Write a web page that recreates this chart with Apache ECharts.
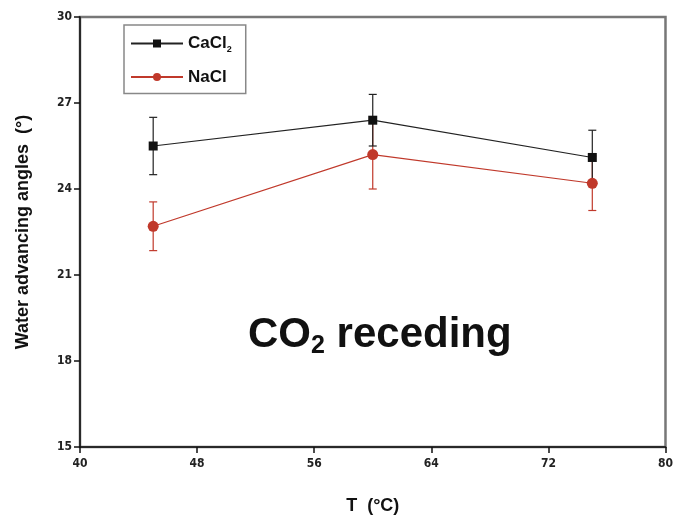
<!DOCTYPE html>
<html>
<head>
<meta charset="utf-8">
<script src="https://cdn.jsdelivr.net/npm/echarts@6/dist/echarts.min.js"></script>
<style>
  html, body { margin: 0; padding: 0; background: #fff; }
  #chart { width: 676px; height: 522px; }
</style>
</head>
<body>
<div id="chart"></div>
<script>
const temps = [45, 60, 75]
const cacl2 = [25.5, 26.4, 25.1]
const cacl2Err = [1.0, 0.9, 0.95]
const nacl = [22.7, 25.2, 24.2]
const naclErr = [0.85, 1.2, 0.95]
const xTicks = [40, 48, 56, 64, 72, 80]
const yTicks = [15, 18, 21, 24, 27, 30]

const chart = echarts.init(document.getElementById('chart'))

const tickFont = '"DejaVu Sans Condensed", "Liberation Sans", sans-serif'

// 误差棒
const errorBars = (name, vals, errs, color) => ({
  type: 'custom',
  name: name + '_err',
  data: temps.map((t, i) => [t, vals[i] - errs[i], vals[i] + errs[i]]),
  renderItem: (params, api) => {
    const lo = api.coord([api.value(0), api.value(1)])
    const hi = api.coord([api.value(0), api.value(2)])
    const w = 4
    const style = { stroke: color, lineWidth: 1.2 }
    return {
      type: 'group',
      children: [
        { type: 'line', shape: { x1: lo[0], y1: lo[1], x2: hi[0], y2: hi[1] }, style },
        { type: 'line', shape: { x1: lo[0] - w, y1: lo[1], x2: lo[0] + w, y2: lo[1] }, style },
        { type: 'line', shape: { x1: hi[0] - w, y1: hi[1], x2: hi[0] + w, y2: hi[1] }, style }
      ]
    }
  },
  z: 1,
  silent: true
})

const option = {
  backgroundColor: '#fff',
  animation: false,
  grid: {
    left: 80, right: 8, top: 17, bottom: 75,
    show: true,
    borderColor: '#777',
    borderWidth: 2.5
  },
  legend: {
    data: ['CaCl2', 'NaCl'],
    orient: 'vertical',
    left: 124,
    top: 25,
    padding: [10, 14, 8, 6],
    itemGap: 14,
    itemWidth: 52,
    itemHeight: 10,
    borderColor: '#888',
    borderWidth: 1.5,
    formatter: (name) => name === 'CaCl2' ? '{b|CaCl}{s|2}' : '{b|' + name + '}',
    textStyle: {
      rich: {
        b: { fontFamily: 'Liberation Sans', fontWeight: 'bold', fontSize: 17, color: '#111' },
        s: { fontFamily: 'Liberation Sans', fontWeight: 'bold', fontSize: 9, color: '#111', padding: [13, 0, 0, 0] }
      }
    }
  },
  xAxis: {
    type: 'value',
    min: 40, max: 80, interval: 8,
    name: 'T  (°C)',
    nameLocation: 'middle',
    nameGap: 50,
    nameTextStyle: { fontFamily: 'Liberation Sans', fontWeight: 'bold', fontSize: 18, color: '#111' },
    axisLine: { lineStyle: { color: '#111', width: 1.5 } },
    axisTick: { show: true, length: 6, lineStyle: { color: '#111', width: 1.5 } },
    axisLabel: {
      fontFamily: tickFont, fontWeight: 'bold', fontSize: 12, color: '#222', margin: 11,
      formatter: (v) => xTicks.includes(v) ? String(v) : ''
    },
    splitLine: { show: false }
  },
  yAxis: {
    type: 'value',
    min: 15, max: 30, interval: 3,
    name: 'Water advancing angles  (°)',
    nameLocation: 'middle',
    nameGap: 48,
    nameTextStyle: { fontFamily: 'Liberation Sans', fontWeight: 'bold', fontSize: 18, color: '#111' },
    axisLine: { lineStyle: { color: '#111', width: 1.5 } },
    axisTick: { show: true, length: 6, lineStyle: { color: '#111', width: 1.5 } },
    axisLabel: {
      fontFamily: tickFont, fontWeight: 'bold', fontSize: 12, color: '#222', margin: 8,
      formatter: (v) => yTicks.includes(v) ? String(v) : ''
    },
    splitLine: { show: false }
  },
  series: [
    errorBars('NaCl', nacl, naclErr, '#c0392b'),
    errorBars('CaCl2', cacl2, cacl2Err, '#222'),
    {
      name: 'NaCl',
      type: 'line',
      data: temps.map((t, i) => [t, nacl[i]]),
      symbol: 'circle',
      symbolSize: 11,
      itemStyle: { color: '#c0392b' },
      lineStyle: { color: '#c0392b', width: 1.2 },
      z: 3
    },
    {
      name: 'CaCl2',
      type: 'line',
      data: temps.map((t, i) => [t, cacl2[i]]),
      symbol: 'rect',
      symbolSize: 9,
      itemStyle: { color: '#111' },
      lineStyle: { color: '#222', width: 1.2 },
      z: 4
    }
  ],
  graphic: [
    {
      type: 'text',
      left: 248,
      top: 314,
      style: {
        text: '{b|CO}{s|2}{b| receding}',
        rich: {
          b: { fontFamily: 'Liberation Sans', fontWeight: 'bold', fontSize: 42, fill: '#111' },
          s: { fontFamily: 'Liberation Sans', fontWeight: 'bold', fontSize: 25, fill: '#111', padding: [23, 0, 0, 0] }
        }
      }
    }
  ]
}

chart.setOption(option)
</script>
</body>
</html>
